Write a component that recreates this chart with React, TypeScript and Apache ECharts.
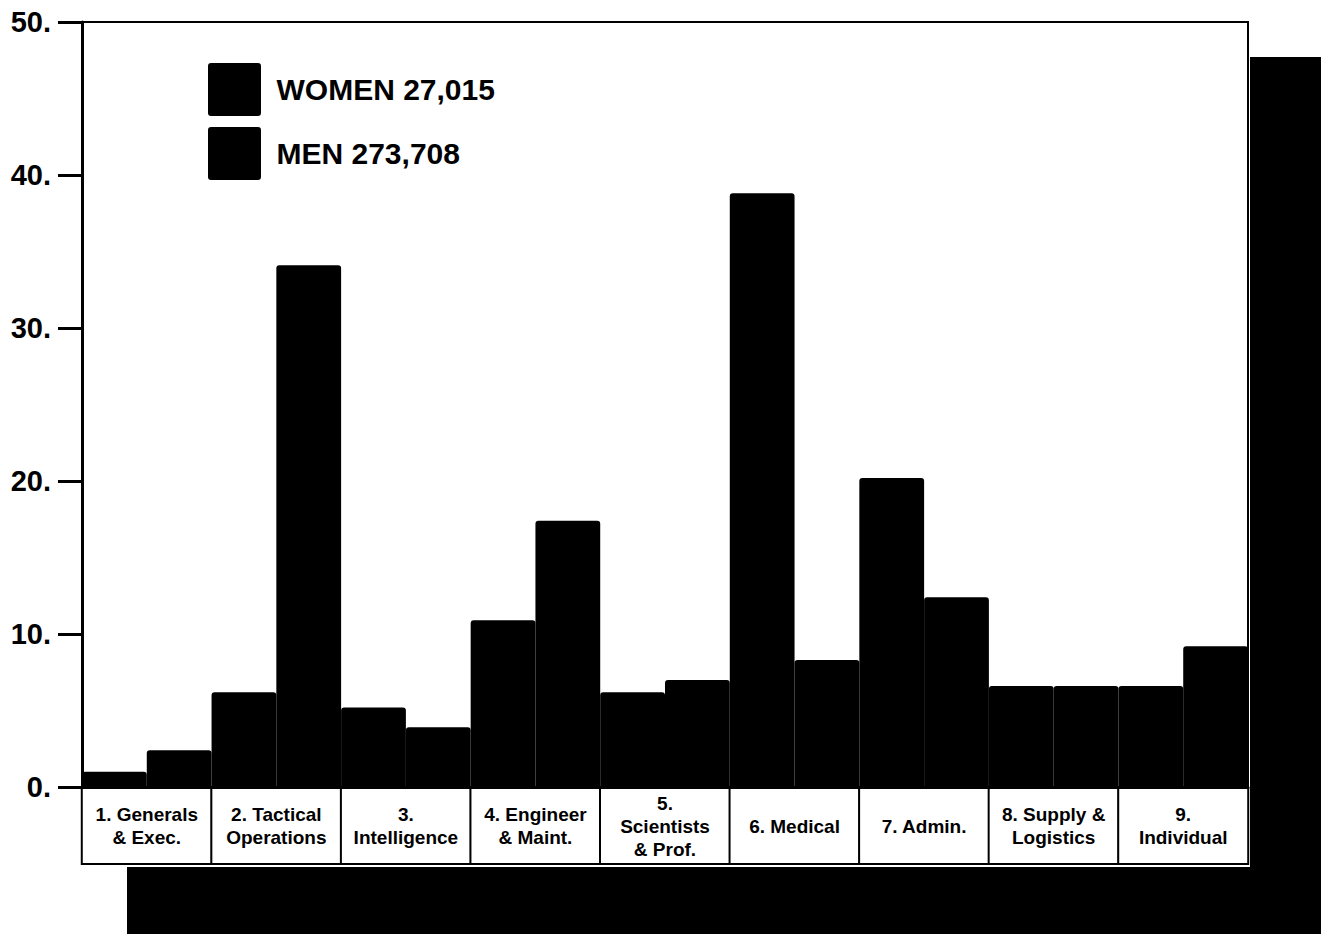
import React, { useEffect, useRef } from "react";
import * as echarts from "echarts";

// Occupational groups (x-axis boxes)
const categories = [
  "1. Generals\n& Exec.",
  "2. Tactical\nOperations",
  "3.\nIntelligence",
  "4. Engineer\n& Maint.",
  "5.\nScientists\n& Prof.",
  "6. Medical",
  "7. Admin.",
  "8. Supply &\nLogistics",
  "9.\nIndividual",
];

// Percent of each sex in each group
const womenShare = [1.0, 6.2, 5.2, 10.9, 6.2, 38.8, 20.2, 6.6, 6.6];
const menShare = [2.4, 34.1, 3.9, 17.4, 7.0, 8.3, 12.4, 6.6, 9.2];

const seriesNames = ["WOMEN 27,015", "MEN 273,708"];

const yMin = 0;
const yMax = 50;
const yStep = 10;

export default function App() {
  const ref = useRef<HTMLDivElement>(null);

  useEffect(() => {
    if (!ref.current) return;
    const chart = echarts.init(ref.current, null, { renderer: "svg" });

    const BOX_H = 74;
    const LH = 23;
    const xData = categories.map((c) => {
      const n = c.split("\n").length;
      const pad = (BOX_H - n * LH) / 2;
      return { value: c, textStyle: { padding: [pad, 0, pad, 0] } };
    });

    const font = "'Liberation Sans', Arial, Helvetica, sans-serif";
    const squareIcon =
      "path://M2,0 L48,0 Q50,0 50,2 L50,48 Q50,50 48,50 L2,50 Q0,50 0,48 L0,2 Q0,0 2,0 Z";

    const barStyle = {
      color: "#000000",
      borderColor: "#000000",
      borderWidth: 2,
      borderRadius: [2, 2, 0, 0],
    };

    chart.setOption({
      animation: false,
      backgroundColor: "#ffffff",
      textStyle: { fontFamily: font },
      grid: {
        left: 82,
        right: 80,
        top: 22,
        bottom: 147,
        show: true,
        backgroundColor: "#ffffff",
        borderColor: "#000000",
        borderWidth: 2,
        outerBoundsMode: "none",
      },
      legend: {
        orient: "vertical",
        left: 208,
        top: 63,
        padding: 0,
        itemWidth: 52,
        itemHeight: 51,
        itemGap: 11,
        icon: squareIcon,
        selectedMode: false,
        data: seriesNames,
        textStyle: {
          color: "#000",
          fontSize: 30,
          fontWeight: "bold",
          fontFamily: font,
          padding: [0, 0, 0, 11],
        },
      },
      xAxis: {
        type: "category",
        data: xData,
        axisLine: { show: true, lineStyle: { color: "#000", width: 3 } },
        axisTick: { show: false },
        splitLine: { show: false },
        axisLabel: {
          interval: 0,
          margin: 2,
          width: 128,
          color: "#000",
          fontSize: 19,
          fontWeight: "bold",
          fontFamily: font,
          lineHeight: LH,
          align: "center",
          verticalAlign: "top",
          backgroundColor: "#ffffff",
          borderColor: "#000000",
          borderWidth: 2,
          overflow: "none",
        },
      },
      yAxis: {
        type: "value",
        min: yMin,
        max: yMax,
        interval: yStep,
        axisLine: { show: true, lineStyle: { color: "#000", width: 3 } },
        axisTick: { show: true, length: 24, lineStyle: { color: "#000", width: 3 } },
        splitLine: { show: false },
        axisLabel: {
          margin: 31,
          color: "#000",
          fontSize: 29,
          fontWeight: "bold",
          fontFamily: font,
          formatter: (v: number) => `${v}.`,
        },
      },
      series: [
        {
          name: seriesNames[0],
          type: "bar",
          data: womenShare,
          barGap: "0%",
          barCategoryGap: "0%",
          itemStyle: barStyle,
        },
        {
          name: seriesNames[1],
          type: "bar",
          data: menShare,
          barGap: "0%",
          barCategoryGap: "0%",
          itemStyle: barStyle,
        },
      ],
      graphic: [
        {
          type: "rect",
          z: 0,
          shape: { x: 1250, y: 57, width: 71, height: 877 },
          style: { fill: "#000000" },
          silent: true,
        },
        {
          type: "rect",
          z: 0,
          shape: { x: 127, y: 867, width: 1194, height: 67 },
          style: { fill: "#000000" },
          silent: true,
        },
      ],
    });

    return () => chart.dispose();
  }, []);

  return (
    <div
      ref={ref}
      style={{
        position: "fixed",
        left: 0,
        top: 0,
        width: 1328,
        height: 934,
        background: "#fff",
      }}
    />
  );
}
